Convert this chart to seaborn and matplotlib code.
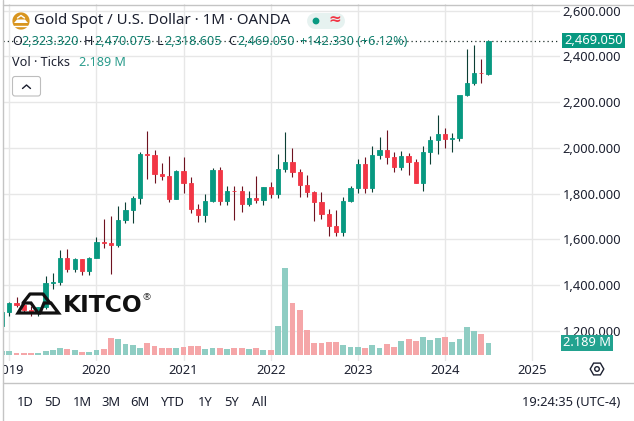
import numpy as np
import pandas as pd
import seaborn as sns
import matplotlib
matplotlib.use("Agg")
import matplotlib.pyplot as plt
from matplotlib.patches import Rectangle, FancyBboxPatch, Polygon
from matplotlib.lines import Line2D
from matplotlib.transforms import Bbox

# ---- data -------------------------------------------------------------
month_index = list(range(-1, 67))  # 0 = Jan 2019
opens = [1222,1282,1321,1313,1292,1283,1305,1409,1413,1520,1472,1513,1464,
         1517,1589,1586,1577,1687,1730,1781,1975,1968,1886,1879,1777,
         1898,1847,1734,1707,1769,1906,1770,1814,1813,1757,1783,1774,
         1829,1797,1909,1937,1897,1837,1807,1766,1711,1661,1633,1768,
         1824,1929,1824,1969,1990,1962,1919,1965,1940,1849,1984,2036,
         2063,2039,2044,2230,2286,2327,2323.32]
highs = [1284,1326,1347,1325,1310,1306,1439,1452,1555,1557,1519,1515,1524,
         1611,1689,1704,1747,1765,1789,1984,2075,1992,1933,1965,1906,
         1959,1872,1755,1798,1912,1916,1834,1834,1834,1814,1877,1831,
         1853,1974,2070,1998,1910,1880,1814,1808,1735,1730,1786,1833,
         1950,1960,2009,2049,2079,1984,1987,1980,1953,2009,2052,2144,
         2088,2066,2222,2431,2450,2387,2470.075]
lows = [1221,1266,1303,1280,1266,1266,1296,1382,1400,1459,1459,1445,1446,
        1517,1563,1451,1568,1670,1670,1757,1863,1848,1860,1764,1775,
        1802,1717,1677,1677,1765,1750,1750,1684,1721,1746,1760,1753,
        1780,1780,1895,1872,1786,1785,1681,1688,1614,1617,1616,1766,
        1804,1804,1809,1950,1932,1893,1903,1884,1849,1810,1932,1973,
        2002,1984,2030,2229,2277,2286,2318.605]
closes = [1282,1321,1313,1292,1283,1305,1409,1413,1520,1472,1513,1464,1517,
          1589,1586,1577,1687,1730,1781,1975,1968,1886,1879,1777,1898,
          1847,1734,1707,1769,1906,1770,1814,1813,1757,1783,1774,1829,
          1797,1909,1937,1897,1837,1807,1766,1711,1661,1633,1768,1824,
          1929,1824,1969,1990,1962,1919,1965,1940,1849,1984,2036,2063,
          2039,2044,2230,2286,2327,2326,2469.05]
volumes_m = [.67,.67,.30,.30,.30,.30,.67,.85,1.22,1.03,.91,.49,.55,
             .85,1.03,3.10,2.86,2.01,1.76,1.28,2.19,1.64,1.28,1.28,1.28,
             1.40,1.64,1.64,1.09,1.22,1.22,1.03,1.22,1.22,1.03,1.22,.85,
             .91,5.29,15.81,9.42,8.21,4.56,2.13,2.13,2.31,2.31,1.82,1.46,
             1.46,1.22,1.82,1.22,2.01,1.46,2.49,2.86,2.49,3.22,2.67,3.04,
             3.22,2.37,2.86,5.05,4.32,3.77,2.19]
price_ticks = [1200, 1400, 1600, 1800, 2000, 2200, 2400, 2600]
price_labels = ["1,200.000", "1,400.000", "1,600.000", "1,800.000",
                "2,000.000", "2,200.000", "2,400.000", "2,600.000"]
year_ticks = [0, 12, 24, 36, 48, 60, 72]
year_labels = ["2019", "2020", "2021", "2022", "2023", "2024", "2025"]
range_buttons = ["1D", "5D", "1M", "3M", "6M", "YTD", "1Y", "5Y", "All"]
last_price = 2469.05

# ---- style ------------------------------------------------------------
W, H = 634, 421
UP, DOWN = "#089981", "#f23645"
UP_W, DOWN_W = "#0c3f35", "#6e1220"
UP_V, DOWN_V = "#8fcdc3", "#f5a6a8"
INK = "#1c2030"
sns.set_theme(style="white")
plt.rcParams["font.family"] = ["Noto Sans", "DejaVu Sans"]

df = pd.DataFrame({"x": month_index, "o": opens, "h": highs, "l": lows,
                   "c": closes, "v": volumes_m})
df["up"] = df["c"] >= df["o"]
df["low_body"] = df[["o", "c"]].min(axis=1)
df["body"] = (df["c"] - df["o"]).abs()

fig = plt.figure(figsize=(W / 100, H / 100), dpi=100, facecolor="white")


def fx(px):
    return px / W


def fy(py):
    return 1 - py / H


# axes span pixels x 3..560 and y 4.5..361
L, R, T, B = 3, 560, 4.5, 361
rect = [fx(L), fy(B), fx(R) - fx(L), (B - T) / H]
ax = fig.add_axes(rect)
ax_v = fig.add_axes(rect, facecolor="none")

# price scale: 0.22875 px per dollar, 1200 at pixel 331
PX_PER_USD = 0.22875
ax.set_ylim(1200 - (B - 331) / PX_PER_USD, 1200 + (331 - T) / PX_PER_USD)
# time scale: 7.26 px per month, Jan 2019 at pixel 9.3
PX_PER_MONTH = 7.26
xlim = ((L - 9.3) / PX_PER_MONTH, (R - 9.3) / PX_PER_MONTH)

ax.vlines(df["x"][df["up"]], df["l"][df["up"]], df["h"][df["up"]],
          color=UP_W, lw=0.8, zorder=2)
ax.vlines(df["x"][~df["up"]], df["l"][~df["up"]], df["h"][~df["up"]],
          color=DOWN_W, lw=0.8, zorder=2)
for mask, col in ((df["up"], UP), (~df["up"], DOWN)):
    sub = df[mask]
    sns.barplot(data=sub, x="x", y="body", bottom=sub["low_body"].to_numpy(),
                native_scale=True, color=col, saturation=1, width=0.58,
                errorbar=None, edgecolor=col, linewidth=0.6, ax=ax, zorder=3)
    sns.barplot(data=sub, x="x", y="v", native_scale=True, color=UP_V if col == UP else DOWN_V,
                saturation=1, width=0.8, errorbar=None, linewidth=0,
                ax=ax_v, zorder=2)
ax.axhline(last_price, color="#20302c", lw=0.9, ls=(0, (1, 2.4)), zorder=1.5)

ax.set_xlim(xlim)
ax.set_xlabel("")
ax.set_ylabel("")
ax.set_xticks(year_ticks, year_labels)
ax.set_yticks(price_ticks, price_labels)
ax.yaxis.tick_right()
ax.grid(True, color="#e7e7e7", lw=1)
ax.set_axisbelow(True)
ax.tick_params(axis="y", length=0, pad=44, labelsize=9.3, labelcolor=INK)
ax.tick_params(axis="x", length=0, pad=2.4, labelsize=9.3, labelcolor=INK)
for lab in ax.get_yticklabels():
    lab.set_ha("right")
    lab.set_va("center_baseline")
clip = Bbox([[3, 0], [W, H]])
for lab in ax.get_xticklabels():
    lab.set_clip_box(clip)
    lab.set_clip_on(True)
for s in ax.spines.values():
    s.set_visible(False)

# volume scale: 5.48 px per million, zero at pixel 355
PX_PER_M = 5.48
ax_v.set_xlim(xlim)
ax_v.set_ylim(-(B - 355) / PX_PER_M, (355 - T) / PX_PER_M)
ax_v.axis("off")

# ---- frame ------------------------------------------------------------
for x0, y0, x1, y1 in ((2.5, 0, 2.5, H), (2.5, 4.5, W, 4.5), (2.5, 383, W, 383)):
    fig.add_artist(Line2D([fx(x0), fx(x1)], [fy(y0), fy(y1)], color="#c4c4c4", lw=1))


def txt(x, y, s, size=9.3, color=INK, ha="left", **kw):
    return fig.text(fx(x), fy(y), s, fontsize=size, color=color, ha=ha, va="center", **kw)


# ---- legend -----------------------------------------------------------
aspect = W / H
txt(34, 21, "Gold Spot / U.S. Dollar · 1M · OANDA", size=10.85)
TEAL = "#0f7d6c"
for x, s, c in ((12, "O", INK), (21.5, "2,323.320", TEAL), (84, "H", INK), (94, "2,470.075", TEAL),
                (157, "L", INK), (164, "2,318.605", TEAL), (228, "C", INK), (237.5, "2,469.050", TEAL),
                (300, "+142.330 (+6.12%)", TEAL)):
    txt(x, 41.5, s, size=9.1, color=c)
txt(12, 62, "Vol · Ticks", size=9.1)
txt(79, 62, "2.189 M", size=9.1, color="#2b9c8c")

# ---- price and volume labels -------------------------------------------
fig.add_artist(Rectangle((fx(561.5), fy(47.7)), fx(63.5), 15 / H, transform=fig.transFigure,
                         color=UP, lw=0))
txt(593.2, 40.2, "2,469.050", size=9.3, color="white", ha="center", fontweight="bold")
fig.add_artist(Rectangle((fx(561), fy(351)), fx(52), 16 / H, transform=fig.transFigure,
                         color="#22a28f", lw=0))
txt(587, 343, "2.189 M", size=9.3, color="white", ha="center", fontweight="bold")

# ---- buttons ----------------------------------------------------------
for x, s in zip((25, 53, 82, 111, 140, 173, 205, 232, 260), range_buttons):
    txt(x, 403, s, size=9.3, ha="center")
txt(620.5, 403, "19:24:35 (UTC-4)", size=9.3, ha="right")

# ---- logo and icons, in pixel coordinates --------------------------------
to_fig = lambda pts: [(fx(a), fy(b)) for a, b in pts]
for pts in (((18, 313), (38, 313), (31, 303), (24, 303)),
            ((40, 313), (58.5, 313), (51, 303), (44, 303))):
    fig.add_artist(Polygon(to_fig(pts), closed=True, fill=False, ec="#111111", lw=2.3,
                           transform=fig.transFigure))
fig.add_artist(Line2D([fx(a) for a in (23, 30, 43, 50)], [fy(b) for b in (303, 294, 294, 303)],
                      color="#111111", lw=2.3))
txt(62.5, 305.5, "KITCO", size=16.8, color="#111111", fontfamily="DejaVu Sans", fontweight="bold")
txt(142.5, 297.5, "®", size=7, color="#333333")

# gold coin icon
t = np.linspace(0, 2 * np.pi, 80)
fig.add_artist(Polygon(to_fig(np.c_[21 + 8.6 * np.cos(t), 21 + 8.6 * np.sin(t)]), closed=True,
                       color="#d8951f", lw=0, transform=fig.transFigure))
fig.add_artist(Polygon(to_fig(((14, 23), (28, 23), (25, 19.5), (17, 19.5))), closed=True,
                       color="white", lw=0, transform=fig.transFigure, zorder=2.5))
fig.add_artist(Line2D([fx(14), fx(28)], [fy(25.5), fy(25.5)], color="white", lw=1))
fig.add_artist(Line2D([fx(17.5), fx(21), fx(24.5)], [fy(18), fy(15.5), fy(18)], color="white", lw=1))

# status pill
fig.add_artist(Line2D([fx(315), fx(337)], [fy(21), fy(21)], color="#e6f2f0", lw=11.5,
                      solid_capstyle="round", zorder=0.9))
t2 = np.linspace(0, 2 * np.pi, 40)
fig.add_artist(Polygon(to_fig(np.c_[316 + 3.4 * np.cos(t2), 21 + 3.4 * np.sin(t2)]), closed=True,
                       color=UP, lw=0, transform=fig.transFigure, zorder=5))
txt(335, 20.5, "≈", size=11, color=DOWN, ha="center", fontweight="bold")

# collapse button
fig.add_artist(FancyBboxPatch((fx(12.5), fy(96)), fx(28), 19.5 / H,
                              boxstyle="round,pad=0,rounding_size=0.004", transform=fig.transFigure,
                              fc="white", ec="#bdbdbd", lw=0.8, mutation_aspect=aspect))
fig.add_artist(Line2D([fx(22.5), fx(26.5), fx(30.5)], [fy(88.5), fy(85), fy(88.5)], color=INK, lw=1))

# settings hexagon
hx = [597 + 6.8 * np.cos(a) for a in np.deg2rad(range(0, 360, 60))]
hy = [369 + 6.8 * np.sin(a) for a in np.deg2rad(range(0, 360, 60))]
fig.add_artist(Polygon(to_fig(list(zip(hx, hy))), closed=True, fill=False, ec=INK, lw=1,
                       transform=fig.transFigure))
c = np.linspace(0, 2 * np.pi, 30)
fig.add_artist(Polygon(to_fig(np.c_[597 + 2.3 * np.cos(c), 369 + 2.3 * np.sin(c)]), closed=True,
                       fill=False, ec=INK, lw=1, transform=fig.transFigure))

fig.savefig("out.png", dpi=100)
